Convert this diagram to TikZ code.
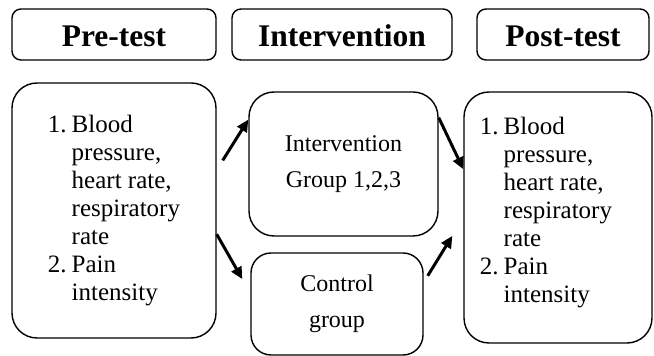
\documentclass[tikz,border=0pt]{standalone}
\usepackage{fontspec}
\setmainfont{Liberation Serif}
\usetikzlibrary{arrows.meta,positioning}

\newcommand{\measurelist}{%
    \begin{tabular}{@{}l@{\hspace{5pt}}l@{}}
        1. & Blood \\
           & pressure, \\
           & heart rate, \\
           & respiratory \\
           & rate \\
        2. & Pain \\
           & intensity
    \end{tabular}}

\begin{document}
\begin{tikzpicture}[
    x=1pt,
    y=1pt,
    ->,
    >={Triangle[length=12pt,width=11pt]},
    head/.style={
        draw,
        line width=1.4pt,
        rounded corners=9pt,
        inner sep=0pt,
        minimum height=51pt,
        text height=25pt,
        text depth=0pt,
        font=\fontsize{31.5}{36}\selectfont\bfseries,
    },
    stage/.style={
        draw,
        line width=1.4pt,
        rounded corners=25pt,
        inner sep=0pt,
        align=center,
        font=\fontsize{24}{36}\selectfont,
    },
    listbox/.style={
        stage,
        font=\fontsize{25}{28}\selectfont,
    },
    link/.style={
        line width=3pt,
    },
]
    \useasboundingbox (0,0) rectangle (654,356);

    % column headings
    \node[head, minimum width=204pt] (prehead)  at (114,321.5) {Pre-test};
    \node[head, minimum width=220pt] (inthead)  at (342,321.5) {Intervention};
    \node[head, minimum width=172pt] (posthead) at (563,321.5) {Post-test};

    % groups and measurements
    \node[listbox, minimum width=204pt, minimum height=255pt]                     (pre)  at (114,145.5) {\measurelist};
    \node[stage, minimum width=189pt, minimum height=144pt]                       (int)  at (343.5,192) {Intervention\\Group 1,2,3};
    \node[stage, minimum width=172pt, minimum height=102pt, rounded corners=20pt] (ctl)  at (337,52)    {Control\\group};
    \node[listbox, minimum width=188pt, minimum height=251pt]                     (post) at (558,138.5)
        {\raisebox{0pt}[\height][\dimexpr\depth+10pt\relax]{\measurelist\hspace{24pt}}};

    \draw[link] ([xshift=6pt]pre.26)    -- (int.155);
    \draw[link] (pre.-13.5)             -- ([xshift=-8pt]ctl.164);
    \draw[link] (int.26)                -- (post.153);
    \draw[link] ([xshift=4pt]ctl.18.6)  -- ([xshift=-11pt]post.191);
\end{tikzpicture}
\end{document}
